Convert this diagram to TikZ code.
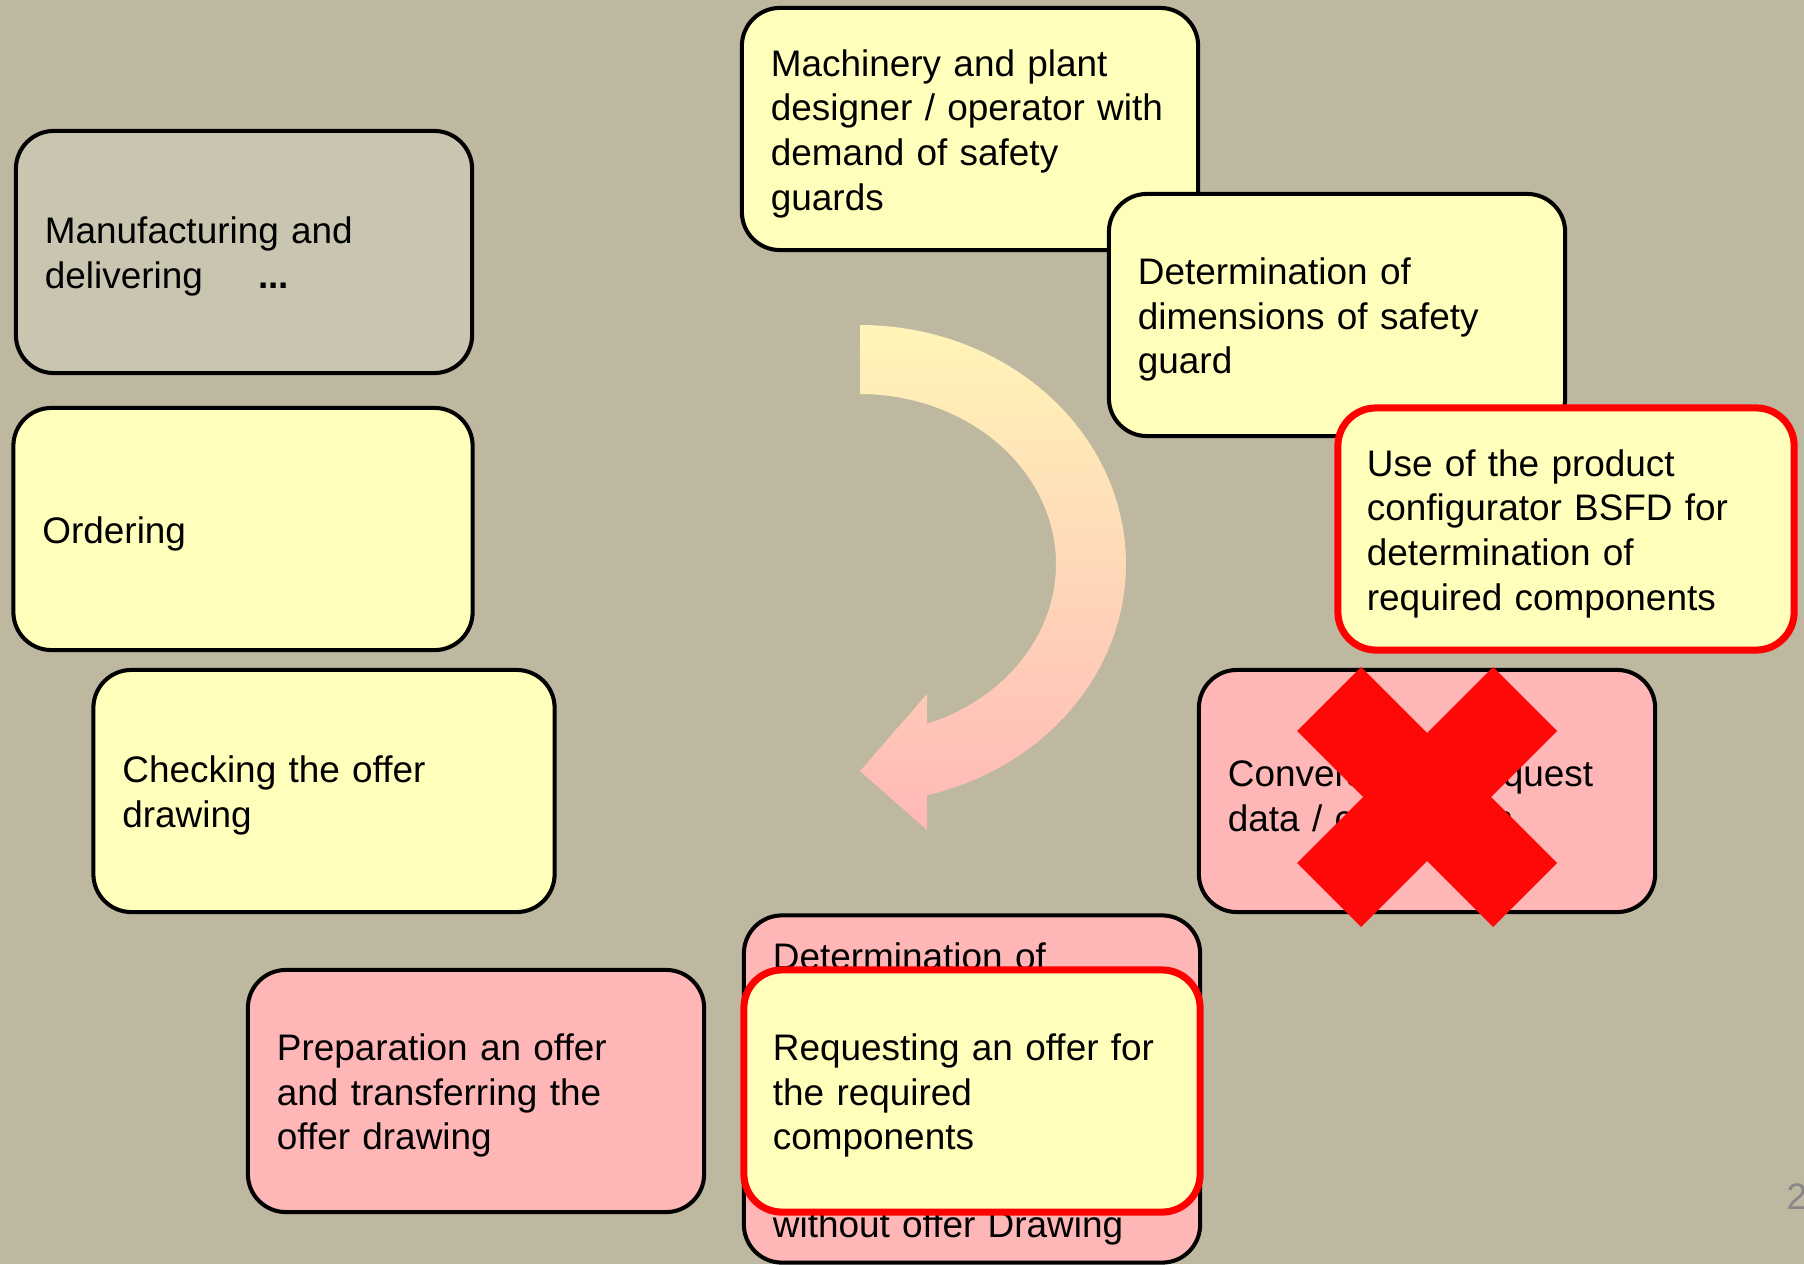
\documentclass[tikz,border=0pt]{standalone}
\usepackage{fontspec}
\setmainfont{Liberation Sans}
\definecolor{slidebg}{RGB}{190,184,160}
\definecolor{stepyellow}{RGB}{255,255,187}
\definecolor{steppink}{RGB}{255,182,182}
\definecolor{stepgray}{RGB}{202,197,177}
\definecolor{crossred}{RGB}{255,8,8}
\definecolor{arrowtop}{RGB}{255,245,184}
\definecolor{arrowmid}{RGB}{255,224,184}
\definecolor{arrowbot}{RGB}{255,184,184}
\definecolor{pagegray}{RGB}{135,135,135}
\begin{document}
\begin{tikzpicture}[x=0.01cm, y=-0.01cm,
        stage/.style={draw=black, line width=1.15pt, rounded corners=0.38cm, align=left,
            text width=3.98cm, inner xsep=0.29cm, minimum height=2.42cm,
            font=\fontsize{10.5pt}{12.7pt}\selectfont,
            execute at begin node={\rule{0pt}{10.3pt}}},
        marked/.style={stage, draw=red, line width=2pt}]
            \fill[slidebg] (0,0) rectangle (1804,1264);
            \useasboundingbox (0,0) rectangle (1804,1264);

            \shade[top color=arrowtop, middle color=arrowmid, bottom color=arrowbot]
                plot[domain=-90:75.4, samples=60] ({860+266*cos(\x)}, {564+239*sin(\x)})
                -- (927,830) -- (860,771) -- (927,694)
                -- plot[domain=70:-90, samples=60] ({860+196*cos(\x)}, {564+170*sin(\x)})
                -- cycle;

            \node[stage, fill=stepgray] (manuf) at (244,252) {Manufacturing and\\delivering\hspace{1.5em}\textbf{...}};
            \node[stage, fill=stepyellow, text width=4.01cm] (order) at (243,529) {Ordering};
            \node[stage, fill=stepyellow, text width=4.03cm] (check) at (324,791) {Checking the offer\\drawing};
            \node[stage, fill=steppink] (prep) at (476,1091) {Preparation an offer\\and transferring the\\offer drawing};

            \node[stage, fill=steppink, minimum height=3.47cm] (detoffer) at (972,1089) {Determination of\\[5\baselineskip]without offer Drawing};
            \node[marked, fill=stepyellow] (request) at (972,1091) {Requesting an offer for\\the required\\components};

            \node[stage, fill=stepyellow] (demand) at (970,129) {Machinery and plant\\designer / operator with\\demand of safety\\guards};
            \node[stage, fill=stepyellow] (dims) at (1337,315) {Determination of\\dimensions of safety\\guard};
            \node[marked, fill=stepyellow] (config) at (1566,529) {Use of the product\\configurator BSFD for\\determination of\\required components};

            \node[stage, fill=steppink] (convert) at (1427,791) {Conversion of request\\data / conversion};
            \fill[crossred, shift={(1427,797)}] (-130,-66) -- (-66,-130) -- (0,-64) -- (66,-130) -- (130,-66) -- (64,0)
                -- (130,66) -- (66,130) -- (0,64) -- (-66,130) -- (-130,66) -- (-64,0) -- cycle;

            \node[anchor=west, inner sep=0pt, text=pagegray, font=\fontsize{10.5pt}{12.7pt}\selectfont] (page) at (1786,1197) {2};
        \end{tikzpicture}
\end{document}
